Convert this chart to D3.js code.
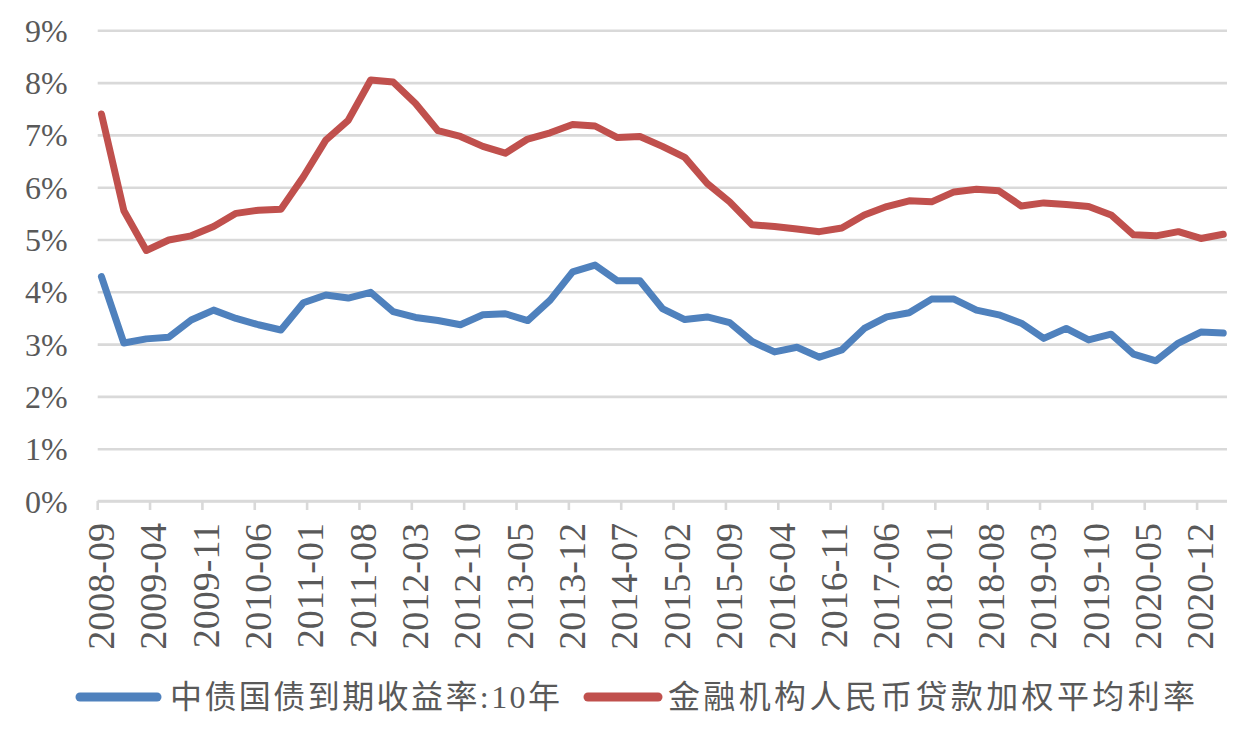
<!DOCTYPE html>
<html>
<head>
<meta charset="utf-8">
<script src="https://cdn.jsdelivr.net/npm/d3@7"></script>
<style>
  html, body { margin: 0; padding: 0; background: #fff; }
  svg { display: block; }
</style>
</head>
<body>
<svg id="chart" width="1242" height="729"></svg>
<script>
// ---- data ----
const quarters = ["2008-09","2008-12","2009-03","2009-06","2009-09","2009-12","2010-03","2010-06","2010-09","2010-12",
  "2011-03","2011-06","2011-09","2011-12","2012-03","2012-06","2012-09","2012-12","2013-03","2013-06",
  "2013-09","2013-12","2014-03","2014-06","2014-09","2014-12","2015-03","2015-06","2015-09","2015-12",
  "2016-03","2016-06","2016-09","2016-12","2017-03","2017-06","2017-09","2017-12","2018-03","2018-06",
  "2018-09","2018-12","2019-03","2019-06","2019-09","2019-12","2020-03","2020-06","2020-09","2020-12","2021-03"];
const bond10y = [4.29,3.02,3.10,3.13,3.46,3.65,3.49,3.37,3.27,3.79,
  3.94,3.88,3.99,3.62,3.51,3.45,3.37,3.56,3.58,3.45,
  3.84,4.38,4.51,4.21,4.21,3.68,3.47,3.52,3.41,3.05,
  2.85,2.94,2.75,2.89,3.30,3.52,3.60,3.86,3.86,3.65,
  3.56,3.40,3.11,3.30,3.08,3.19,2.81,2.68,3.02,3.23,3.21];
const loanRate = [7.40,5.55,4.79,4.99,5.07,5.25,5.50,5.56,5.58,6.20,
  6.90,7.28,8.05,8.01,7.60,7.08,6.97,6.78,6.65,6.92,
  7.04,7.20,7.17,6.95,6.97,6.78,6.57,6.07,5.72,5.28,
  5.25,5.20,5.15,5.22,5.47,5.63,5.74,5.72,5.91,5.96,
  5.93,5.64,5.70,5.67,5.63,5.47,5.09,5.07,5.15,5.02,5.10];
const tickLabels = ["2008-09","2009-04","2009-11","2010-06","2011-01","2011-08","2012-03","2012-10","2013-05","2013-12",
  "2014-07","2015-02","2015-09","2016-04","2016-11","2017-06","2018-01","2018-08","2019-03","2019-10","2020-05","2020-12"];
const yTicks = [0,1,2,3,4,5,6,7,8,9];
const seriesNames = ["中债国债到期收益率:10年", "金融机构人民币贷款加权平均利率"];
const seriesColors = ["#4F81BD", "#C0504D"];

// ---- layout ----
const svg = d3.select("#chart");
const plotL = 97.7, plotR = 1227, plotT = 30.3, plotB = 501;
const fmt = d3.timeFormat("%Y-%m");
const months = d3.timeMonth.range(new Date(2008, 8, 1), new Date(2021, 3, 1)).map(fmt);

const x = d3.scaleBand().domain(months).range([plotL, plotR]).paddingInner(0).paddingOuter(0);
const xc = m => x(m) + x.bandwidth() / 2;
const y = d3.scaleLinear().domain([0, 9]).range([plotB, plotT]);

const gridColor = "#D9D9D9";
const textColor = "#595959";
const serif = "'Liberation Serif', 'Times New Roman', serif";

// y axis with gridlines
const yAxis = svg.append("g")
  .attr("transform", `translate(${plotL},0)`)
  .call(d3.axisLeft(y).tickValues(yTicks).tickFormat(d => d + "%")
    .tickSize(-(plotR - plotL)).tickPadding(30));
yAxis.select(".domain").remove();
yAxis.selectAll(".tick line").attr("stroke", gridColor).attr("stroke-width", 2.6);
yAxis.selectAll(".tick text")
  .attr("fill", textColor)
  .attr("font-family", serif)
  .attr("font-size", 32)
  .attr("dy", null)
  .attr("y", 11);

// x axis line + tick marks at category boundaries
svg.append("line")
  .attr("x1", plotL).attr("x2", plotR)
  .attr("y1", y(0)).attr("y2", y(0))
  .attr("stroke", gridColor).attr("stroke-width", 2.6);
svg.append("g").selectAll("line").data(tickLabels).join("line")
  .attr("x1", d => x(d)).attr("x2", d => x(d))
  .attr("y1", y(0)).attr("y2", y(0) + 9)
  .attr("stroke", gridColor).attr("stroke-width", 2.6);

// x labels (rotated), centered on category
const xAxis = svg.append("g")
  .attr("transform", `translate(0,${y(0)})`)
  .call(d3.axisBottom(x).tickValues(tickLabels).tickSize(0).tickPadding(0));
xAxis.select(".domain").remove();
xAxis.selectAll(".tick text")
  .attr("fill", textColor)
  .attr("font-family", serif)
  .attr("font-size", 38)
  .attr("text-anchor", "end")
  .attr("dy", null)
  .attr("y", 0)
  .attr("transform", "translate(12.5,22) rotate(-90)")
  .attr("x", 0);

// lines
const line = d3.line().x((d, i) => xc(quarters[i])).y(d => y(d));
[bond10y, loanRate].forEach((s, k) => {
  svg.append("path")
    .datum(s)
    .attr("d", line)
    .attr("fill", "none")
    .attr("stroke", seriesColors[k])
    .attr("stroke-width", 7)
    .attr("stroke-linejoin", "round")
    .attr("stroke-linecap", "round");
});

// legend
const legendY = 697;
const legendItems = [
  { x1: 80, x2: 157, tx: 170, tw: 390 },
  { x1: 588, x2: 658, tx: 668, tw: 527 }
];
legendItems.forEach((it, k) => {
  svg.append("line")
    .attr("x1", it.x1).attr("x2", it.x2)
    .attr("y1", legendY).attr("y2", legendY)
    .attr("stroke", seriesColors[k]).attr("stroke-width", 9)
    .attr("stroke-linecap", "round");
  svg.append("text")
    .attr("x", it.tx).attr("y", legendY + 11)
    .attr("fill", textColor)
    .attr("font-family", "'Liberation Serif', 'Noto Sans CJK SC', serif")
    .attr("font-size", 32)
    .attr("textLength", it.tw)
    .attr("lengthAdjust", "spacing")
    .text(seriesNames[k]);
});
</script>
</body>
</html>
